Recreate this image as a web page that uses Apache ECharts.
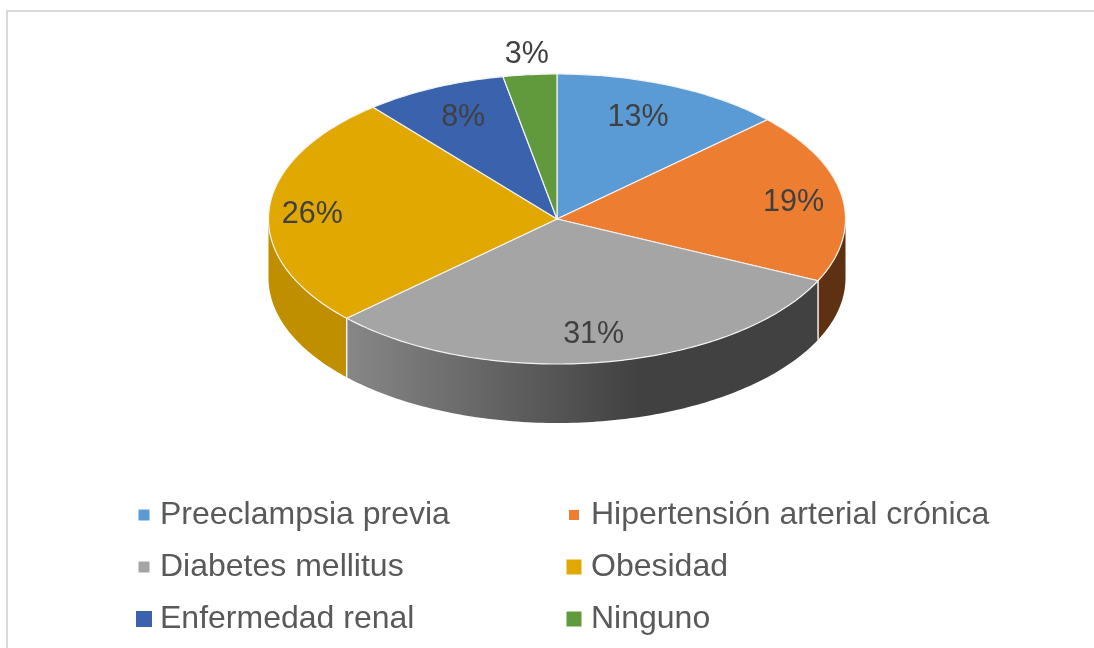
<!DOCTYPE html>
<html>
<head>
<meta charset="utf-8">
<style>html,body{margin:0;padding:0;background:#fff}#c{width:1094px;height:648px}</style>
<script src="https://cdn.jsdelivr.net/npm/echarts@6/dist/echarts.min.js"></script>
</head>
<body>
<div id="c"></div>
<script>
var categories = ['Preeclampsia previa','Hipertensión arterial crónica','Diabetes mellitus','Obesidad','Enfermedad renal','Ninguno'];
var values = [13,19,31,26,8,3];
var topColors = ['#5b9bd5','#ed7d31','#a5a5a5','#e0a800','#3a62ad','#609a3c'];
var sideColors = ['#3f6f9e','#5e3113','gray','#bf8f00','#2a4880','#45702b'];
var labelRadius = [0.76,0.83,0.79,0.85,0.78,1.15];
var labelShiftX = [-6,0,1,0,2,1];
var labelShiftY = [0,2,2,3,1,2];
var legendCenterX = [144,574,144,574,144,574];
var legendCenterY = [513,513,565,565,617,617];
var legendMarker = [11,10,11,15,16,15];
var legendTextX = [160,591,160,591,160,591];

var cx=557, cy=219, rx=288.5, ry=145, depth=59;
var total = values.reduce(function(a,b){return a+b;},0);
function pt(deg,dy){var r=deg*Math.PI/180;return [cx+rx*Math.sin(r), cy-ry*Math.cos(r)+(dy||0)];}
function arc(a,b,dy){var out=[],n=Math.max(2,Math.ceil(Math.abs(b-a)));for(var i=0;i<=n;i++){out.push(pt(a+(b-a)*i/n,dy));}return out;}

var starts=[],acc=0;
values.forEach(function(v){starts.push(acc);acc+=v;});

function renderSlice(params,api){
  var i=params.seriesIndex;
  var a=api.value(1)/total*360, b=(api.value(1)+api.value(0))/total*360;
  var kids=[];
  var s0=Math.max(a,90), s1=Math.min(b,270);
  if(s1>s0){
    var fill=sideColors[i];
    if(fill==='gray'){
      fill=new echarts.graphic.LinearGradient(346,0,818,0,[
        {offset:0,color:'#878787'},{offset:0.62,color:'#414141'},{offset:1,color:'#414141'}],true);
    }
    var poly=arc(s0,s1,0).concat(arc(s1,s0,depth));
    kids.push({type:'polygon',shape:{points:poly},style:{fill:fill,stroke:null},z2:1});
    [s0,s1].forEach(function(d){
      if(d>90&&d<270){
        var p=pt(d,0);
        kids.push({type:'line',shape:{x1:p[0],y1:p[1],x2:p[0],y2:p[1]+depth},
          style:{stroke:'rgba(255,255,255,0.75)',lineWidth:1.2},z2:2});
      }
    });
  }
  var face=[[cx,cy]].concat(arc(a,b,0));
  kids.push({type:'polygon',shape:{points:face},style:{fill:topColors[i],stroke:'#f2f2f2',lineWidth:1.2,lineJoin:'round'},z2:3});
  var mid=pt((a+b)/2,0), k=labelRadius[i];
  kids.push({type:'text',z2:10,style:{text:api.value(0)+'%',x:cx+(mid[0]-cx)*k+labelShiftX[i],y:cy+(mid[1]-cy)*k+labelShiftY[i],
    align:'center',verticalAlign:'middle',fill:'#404040',fontSize:30.5,fontFamily:'"Liberation Sans",Arial,sans-serif'}});
  return {type:'group',children:kids};
}

var ff='"Liberation Sans",Arial,sans-serif';
var option={
  animation:false,
  backgroundColor:'#fff',
  graphic:[{type:'rect',shape:{x:7,y:11,width:1200,height:800},style:{fill:'none',stroke:'#d9d9d9',lineWidth:2},silent:true}],
  legend:categories.map(function(name,i){
    var s=legendMarker[i];
    return {data:[name],icon:'rect',selectedMode:false,itemWidth:s,itemHeight:s,
      left:legendCenterX[i]-s/2,top:legendCenterY[i]-15,padding:0,
      textStyle:{fontSize:32,fontFamily:ff,color:'#595959',lineHeight:34,height:34,
        padding:[0,0,0,legendTextX[i]-(legendCenterX[i]+s/2+5)]}};
  }),
  series:categories.map(function(name,i){
    return {type:'custom',name:name,coordinateSystem:'none',renderItem:renderSlice,silent:true,
      itemStyle:{color:topColors[i]},
      data:[[values[i],starts[i]]]};
  })
};
var chart=echarts.init(document.getElementById('c'),null,{renderer:'canvas'});
chart.setOption(option);
</script>
</body>
</html>
